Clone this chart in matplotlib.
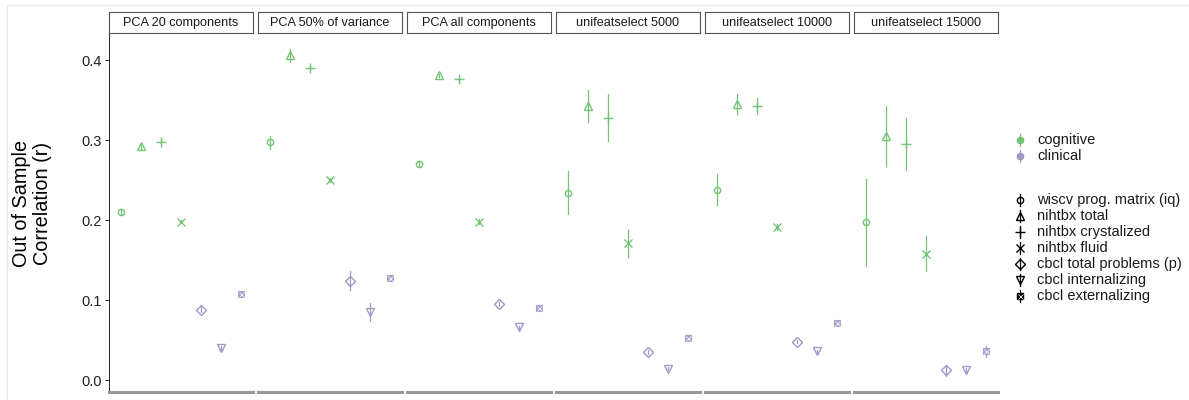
import matplotlib
matplotlib.use("Agg")
import matplotlib.pyplot as plt
import numpy as np

plt.rcParams['font.family'] = ['Liberation Sans', 'DejaVu Sans']

features = ["PCA 20 components", "PCA 50% of variance", "PCA all components",
            "unifeatselect 5000", "unifeatselect 10000", "unifeatselect 15000"]
targets = ["wiscv prog. matrix (iq)", "nihtbx total", "nihtbx crystalized", "nihtbx fluid",
           "cbcl total problems (p)", "cbcl internalizing", "cbcl externalizing"]
target_group = ["cognitive", "cognitive", "cognitive", "cognitive",
                "clinical", "clinical", "clinical"]

mean_pca20 = [0.210, 0.292, 0.298, 0.198, 0.088, 0.040, 0.107]
mean_pca50 = [0.297, 0.406, 0.390, 0.250, 0.124, 0.085, 0.128]
mean_pcaall = [0.270, 0.381, 0.376, 0.198, 0.095, 0.066, 0.090]
mean_u5000 = [0.234, 0.343, 0.328, 0.171, 0.035, 0.014, 0.053]
mean_u10000 = [0.238, 0.345, 0.343, 0.191, 0.048, 0.036, 0.071]
mean_u15000 = [0.197, 0.305, 0.295, 0.158, 0.012, 0.012, 0.036]

err_pca20 = [0.002, 0.003, 0.002, 0.002, 0.003, 0.002, 0.002]
err_pca50 = [0.008, 0.008, 0.003, 0.002, 0.012, 0.011, 0.002]
err_pcaall = [0.002, 0.002, 0.002, 0.003, 0.002, 0.002, 0.002]
err_u5000 = [0.027, 0.020, 0.029, 0.017, 0.002, 0.002, 0.002]
err_u10000 = [0.019, 0.012, 0.010, 0.004, 0.002, 0.002, 0.002]
err_u15000 = [0.054, 0.038, 0.033, 0.022, 0.007, 0.003, 0.007]

means = [mean_pca20, mean_pca50, mean_pcaall, mean_u5000, mean_u10000, mean_u15000]
errs = [err_pca20, err_pca50, err_pcaall, err_u5000, err_u10000, err_u15000]

colors = {"cognitive": "#74c476", "clinical": "#9e9ac8"}
markers = ['o', '^', '+', 'x', 'D', 'v', 'sx']
msizes = [4.5, 5.5, 7.5, 5.5, 5.0, 5.5, 4.5]

W, H = 1189, 400
fig = plt.figure(figsize=(W / 100, H / 100), dpi=100)


def fx(px):
    return px / W


def fy(py):
    return 1 - py / H


def draw_marker(ax, x, y, m, ms, c):
    if m == 'sx':
        ax.plot([x], [y], marker='s', ms=ms, mfc=c, mec=c, mew=0.8, alpha=0.85, ls='none')
        ax.plot([x], [y], marker='x', ms=ms * 0.8, mec='white', mew=0.5, ls='none')
    else:
        ax.plot([x], [y], marker=m, ms=ms, mfc='none', mec=c, mew=1.0, ls='none')


# faint outer frame lines (as in reference)
bg = fig.add_axes([0, 0, 1, 1], facecolor='none', zorder=-5)
bg.set_xlim(0, W); bg.set_ylim(H, 0); bg.axis('off')
bg.plot([7, 7], [5, H], color='#e6e6e6', lw=0.8)
bg.plot([7, W], [5, 5], color='#ececec', lw=0.8)

panel_left = [109, 258, 407, 556, 705, 854]
panel_w = 144
top_px, bot_px = 33, 392
y_bot = (380 - 392) / 800
y_top = (380 - 33) / 800

for i, feat in enumerate(features):
    ax = fig.add_axes([fx(panel_left[i]), fy(bot_px), panel_w / W, (bot_px - top_px) / H])
    ax.set_xlim(0.4, 7.6)
    ax.set_ylim(y_bot, y_top)
    for j in range(7):
        c = colors[target_group[j]]
        xj = j + 1
        m, e = means[i][j], errs[i][j]
        ax.plot([xj, xj], [m - e, m + e], color=c, lw=0.9)
        draw_marker(ax, xj, m, markers[j], msizes[j], c)
    for s in ['top', 'right']:
        ax.spines[s].set_visible(False)
    ax.spines['bottom'].set_color('#999999')
    ax.spines['bottom'].set_linewidth(2.2)
    ax.set_xticks([])
    ax.tick_params(axis='x', length=0)
    if i == 0:
        ax.spines['left'].set_color('black')
        ax.spines['left'].set_linewidth(0.6)
        ax.set_yticks([0.0, 0.1, 0.2, 0.3, 0.4])
        ax.set_yticklabels(["0.0", "0.1", "0.2", "0.3", "0.4"], fontsize=10.5, color='#222222')
        ax.tick_params(axis='y', length=3, width=0.6, pad=2)
    else:
        ax.spines['left'].set_visible(False)
        ax.set_yticks([])
    # strip
    sax = fig.add_axes([fx(panel_left[i]), fy(top_px), panel_w / W, 21 / H])
    sax.set_xticks([]); sax.set_yticks([])
    for s in sax.spines.values():
        s.set_color('#555555'); s.set_linewidth(0.8)
    sax.set_facecolor('white')
    sax.text(0.5, 0.47, feat, ha='center', va='center', fontsize=9.1, color='#1a1a1a',
             transform=sax.transAxes)

fig.text(fx(32), fy(203), "Out of Sample\nCorrelation (r)", rotation=90, ha='center',
         va='center', fontsize=14.3, linespacing=1.12, color='black')

# legend overlay
lax = fig.add_axes([0, 0, 1, 1], facecolor='none')
lax.set_xlim(0, W); lax.set_ylim(H, 0); lax.axis('off')
leg_x, txt_x = 1020, 1037
for k, (g, yy) in enumerate([("cognitive", 140), ("clinical", 156)]):
    c = colors[g]
    lax.plot([leg_x, leg_x], [yy - 6, yy + 6], color=c, lw=0.9)
    lax.plot([leg_x], [yy], marker='o', ms=4.5, color=c, ls='none')
    lax.text(txt_x, yy, g, va='center', ha='left', fontsize=10.5, color='#1a1a1a')

shape_y = [200, 216, 232, 248, 264, 280, 296]
for j, t in enumerate(targets):
    yy = shape_y[j]
    lax.plot([leg_x, leg_x], [yy - 6, yy + 6], color='black', lw=0.9)
    m = markers[j]
    if m == 'sx':
        lax.plot([leg_x], [yy], marker='s', ms=4.5, color='black', ls='none')
        lax.plot([leg_x], [yy], marker='x', ms=3.6, mec='white', mew=0.5, ls='none')
    else:
        lax.plot([leg_x], [yy], marker=m, ms=msizes[j], mfc='none', mec='black', mew=1.0, ls='none')
    lax.text(txt_x, yy, t, va='center', ha='left', fontsize=10.5, color='#1a1a1a')

fig.savefig("out.png", dpi=100, facecolor='white')
